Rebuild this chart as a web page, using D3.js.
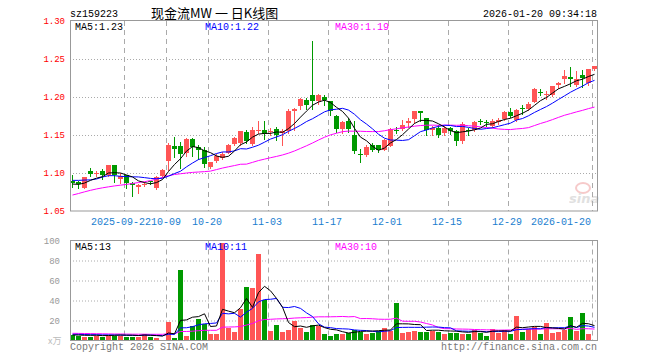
<!DOCTYPE html>
<html>
<head>
<meta charset="utf-8">
<script src="https://cdn.jsdelivr.net/npm/d3@7"></script>
<style>
body { margin: 0; background: #fff; }
text { font-family: "Liberation Mono", "DejaVu Sans Mono", monospace; }
</style>
</head>
<body>
<svg id="chart" width="660" height="360"></svg>
<script>
// trading days shown (88 candles)
const dates = [
  '2025-09-09','2025-09-10','2025-09-11','2025-09-12','2025-09-15','2025-09-16','2025-09-17','2025-09-18','2025-09-19',
  '2025-09-22','2025-09-23','2025-09-24','2025-09-25','2025-09-26','2025-09-29','2025-09-30',
  '2025-10-09','2025-10-10','2025-10-13','2025-10-14','2025-10-15','2025-10-16','2025-10-17',
  '2025-10-20','2025-10-21','2025-10-22','2025-10-23','2025-10-24','2025-10-27','2025-10-28','2025-10-29','2025-10-30','2025-10-31',
  '2025-11-03','2025-11-04','2025-11-05','2025-11-06','2025-11-07','2025-11-10','2025-11-11','2025-11-12','2025-11-13','2025-11-14',
  '2025-11-17','2025-11-18','2025-11-19','2025-11-20','2025-11-21','2025-11-24','2025-11-25','2025-11-26','2025-11-27','2025-11-28',
  '2025-12-01','2025-12-02','2025-12-03','2025-12-04','2025-12-05','2025-12-08','2025-12-09','2025-12-10','2025-12-11','2025-12-12',
  '2025-12-15','2025-12-16','2025-12-17','2025-12-18','2025-12-19','2025-12-22','2025-12-23','2025-12-24','2025-12-25','2025-12-26',
  '2025-12-29','2025-12-30','2025-12-31',
  '2026-01-05','2026-01-06','2026-01-07','2026-01-08','2026-01-09','2026-01-12','2026-01-13','2026-01-14','2026-01-15','2026-01-16',
  '2026-01-19','2026-01-20'
];

const open = [1.090,1.088,1.081,1.102,1.099,1.102,1.097,1.110,1.092,1.097,
  1.087,1.081,1.085,1.089,1.081,1.096,1.116,1.136,1.136,1.126,
  1.145,1.134,1.130,1.108,1.117,1.120,1.127,1.138,1.139,1.1535,
  1.139,1.156,1.156,1.154,1.158,1.1525,1.155,1.181,1.188,1.196,
  1.202,1.194,1.200,1.195,1.175,1.158,1.168,1.150,1.125,1.123,
  1.137,1.137,1.131,1.136,1.157,1.158,1.166,1.170,1.181,1.172,
  1.156,1.159,1.153,1.159,1.155,1.142,1.156,1.156,1.168,1.167,
  1.162,1.168,1.171,1.180,1.170,1.186,1.185,1.194,1.207,1.2025,
  1.202,1.216,1.223,1.226,1.216,1.2285,1.218,1.237];
const high = [1.097,1.090,1.095,1.106,1.103,1.105,1.111,1.111,1.100,1.098,
  1.088,1.085,1.088,1.090,1.096,1.105,1.139,1.147,1.141,1.146,
  1.146,1.137,1.134,1.115,1.125,1.127,1.138,1.147,1.155,1.156,
  1.160,1.168,1.169,1.159,1.160,1.158,1.184,1.186,1.199,1.199,
  1.274,1.204,1.202,1.195,1.176,1.168,1.172,1.169,1.132,1.137,
  1.139,1.137,1.145,1.159,1.160,1.170,1.173,1.181,1.181,1.173,
  1.162,1.163,1.162,1.161,1.157,1.167,1.159,1.168,1.171,1.170,
  1.171,1.172,1.182,1.185,1.184,1.190,1.193,1.212,1.211,1.208,
  1.214,1.220,1.235,1.240,1.234,1.236,1.237,1.241];
const low = [1.082,1.080,1.080,1.096,1.096,1.092,1.096,1.088,1.087,1.080,
  1.070,1.074,1.083,1.086,1.079,1.095,1.104,1.121,1.107,1.122,
  1.123,1.119,1.108,1.107,1.115,1.118,1.126,1.137,1.137,1.139,
  1.137,1.153,1.145,1.150,1.144,1.137,1.153,1.157,1.184,1.184,
  1.184,1.191,1.190,1.176,1.154,1.153,1.154,1.126,1.114,1.122,
  1.129,1.127,1.130,1.135,1.153,1.156,1.160,1.166,1.168,1.150,
  1.150,1.148,1.150,1.151,1.137,1.140,1.150,1.155,1.164,1.162,
  1.160,1.165,1.170,1.174,1.168,1.178,1.183,1.193,1.202,1.197,
  1.201,1.212,1.218,1.214,1.215,1.213,1.216,1.236];
const close = [1.087,1.086,1.095,1.098,1.100,1.097,1.110,1.097,1.096,1.087,
  1.084,1.084,1.086,1.088,1.095,1.104,1.137,1.132,1.126,1.145,
  1.134,1.130,1.111,1.114,1.123,1.125,1.137,1.146,1.155,1.141,
  1.157,1.157,1.1505,1.155,1.1505,1.155,1.181,1.184,1.197,1.190,
  1.194,1.202,1.196,1.182,1.158,1.167,1.158,1.1285,1.1245,1.134,
  1.131,1.131,1.144,1.158,1.156,1.163,1.168,1.181,1.178,1.156,
  1.159,1.150,1.159,1.155,1.142,1.165,1.155,1.167,1.167,1.166,
  1.169,1.170,1.180,1.175,1.183,1.185,1.191,1.211,1.206,1.204,
  1.214,1.219,1.227,1.223,1.224,1.224,1.237,1.241];
// volume, 万
const volume = [6.2,5.5,4.5,4.5,5.5,4.5,6,5.5,6,4.5,
  4.5,4.5,8,4.5,3,2,20,4,71.5,5.5,
  15.5,23,18,8,8,98.8,14,10,33,54.5,
  54,88,41.5,10.5,16.5,10,11.5,20.5,14,10,
  17,15.5,8,5.5,7,8,9,11.5,10,8,
  9,10.5,14,11,39,9,10,11,10,10,
  10.5,10,8,9,9,7,8,11.5,9,5.5,
  13,9,11.5,8,25.5,10,12.5,14.5,8,19,
  9,10,11.5,24.5,11,28.8,8,2];

// MA values at the left edge (their windows start before the first candle)
const ma5Head = [1.0855,1.0850,1.0868,1.0903];
const ma10Head = [1.0903,1.0903,1.0907,1.0910,1.0921,1.0947,1.0965,1.0965,1.0956];
const ma30Head = [1.0710,1.0730,1.0752,1.0772,1.0790,1.0805,1.0818,1.0830,1.0840,1.0850,
  1.0862,1.0875,1.0886,1.0900,1.0920,1.0942,1.0965,1.0980,1.0990,1.1000,
  1.1008,1.1013,1.1018,1.1025,1.1045,1.1065,1.1082,1.1098,1.1115];
const vma5Head = [5.5,5.5,5.2,5.2];
const vma10Head = [6.2,6.2,6.0,5.8,5.8,5.6,5.6,5.5,5.4];
const vma30Head = [7.2,7.1,7.0,6.9,6.8,6.7,6.6,6.5,6.5,6.4,
  6.3,6.3,6.3,6.2,6.2,6.2,6.8,6.8,9.0,9.0,
  9.3,9.8,10.2,10.2,10.2,13.3,13.5,13.6,14.0];

const priceTicks = [1.05,1.10,1.15,1.20,1.25,1.30];
const volTicks = [20,40,60,80,100];
const tickDates = ['2025-09-22','2025-10-09','2025-10-20','2025-11-03','2025-11-17','2025-12-01','2025-12-15','2025-12-29','2026-01-20'];
const tickLabels = ['2025-09-22','10-09','10-20','11-03','11-17','12-01','12-15','12-29','2026-01-20'];
const priceLegend = ['MA5:1.23','MA10:1.22','MA30:1.19'];
const volLegend = ['MA5:13','MA10:11','MA30:10'];

const LEFT = 70, RIGHT = 597;
const P_TOP = 21, P_BOT = 211;
const V_TOP = 240.5, V_BOT = 340.5;
const RED = '#ff5555', GREEN = '#009900';
const MA_COLORS = ['#000000', '#0000ff', '#ff00ff'];
const GRID = '#aaaaaa';

const svg = d3.select('#chart');
svg.append('rect').attr('width', 660).attr('height', 360).attr('fill', '#fff');

const x = d3.scaleBand().domain(dates).range([LEFT, RIGHT]).paddingInner(1 / 6).paddingOuter(0);
const y = d3.scaleLinear().domain([1.05, 1.30]).range([P_BOT, P_TOP]);
const yv = d3.scaleLinear().domain([0, 100]).range([V_BOT, V_TOP]);
const bw = x.bandwidth();

function movingAvg(vals, n, head) {
  return vals.map((v, i) => i < n - 1 ? head[i] : d3.mean(vals.slice(i - n + 1, i + 1)));
}

// sina watermark
const wm = svg.append('g').attr('opacity', 0.55);
wm.append('ellipse').attr('cx', 583).attr('cy', 188).attr('rx', 7).attr('ry', 5)
  .attr('fill', 'none').attr('stroke', '#f0a0a0').attr('stroke-width', 2);
wm.append('text').attr('x', 569).attr('y', 203).text('sina')
  .style('font-family', 'DejaVu Sans').style('font-weight', 'bold').style('font-style', 'italic')
  .style('font-size', '13px').attr('fill', '#c8c8c8');

// horizontal dotted grid
svg.append('g').attr('transform', `translate(${LEFT},0)`)
  .call(d3.axisLeft(y).tickValues([1.10, 1.15, 1.20, 1.25]).tickSize(-(RIGHT - LEFT)).tickFormat(''))
  .call(g => g.select('.domain').remove())
  .call(g => g.selectAll('line').attr('stroke', GRID).attr('stroke-dasharray', '1,2'));
svg.append('g').attr('transform', `translate(${LEFT},0)`)
  .call(d3.axisLeft(yv).tickValues([20, 40, 60, 80]).tickSize(-(RIGHT - LEFT)).tickFormat(''))
  .call(g => g.select('.domain').remove())
  .call(g => g.selectAll('line').attr('stroke', GRID).attr('stroke-dasharray', '1,2'));

// vertical dashed grid in both panels
[[P_TOP, P_BOT], [V_TOP, V_BOT]].forEach(([t, b]) => {
  svg.append('g').selectAll('line')
    .data(tickDates)
    .enter()
    .append('line')
    .attr('x1', d => x(d) + 0.5)
    .attr('x2', d => x(d) + 0.5)
    .attr('y1', t)
    .attr('y2', b)
    .attr('stroke', GRID)
    .attr('stroke-dasharray', '5,4');
});

// y labels
svg.append('g').attr('transform', `translate(${LEFT},0)`)
  .call(d3.axisLeft(y).tickValues(priceTicks).tickSize(0).tickPadding(5).tickFormat(d3.format('.2f')))
  .call(g => g.select('.domain').remove())
  .call(g => g.selectAll('text').attr('fill', '#ff0000')
    .style('font-family', '"Liberation Mono", monospace').style('font-size', '9px'));
svg.append('g').attr('transform', `translate(${LEFT},0)`)
  .call(d3.axisLeft(yv).tickValues(volTicks).tickSize(0).tickPadding(10).tickFormat(d3.format('d')))
  .call(g => g.select('.domain').remove())
  .call(g => g.selectAll('text').attr('fill', '#999')
    .style('font-family', '"Liberation Mono", monospace').style('font-size', '9px'));

// candles
const idx = d3.range(dates.length);
const candles = svg.append('g').attr('shape-rendering', 'crispEdges');
candles.selectAll('line')
  .data(idx)
  .enter()
  .append('line')
  .attr('x1', i => x(dates[i]) + 2.5)
  .attr('x2', i => x(dates[i]) + 2.5)
  .attr('y1', i => Math.round(y(high[i])))
  .attr('y2', i => Math.round(y(low[i])) + 1)
  .attr('stroke', i => close[i] >= open[i] ? RED : GREEN);
candles.selectAll('rect')
  .data(idx)
  .enter()
  .append('rect')
  .attr('x', i => x(dates[i]))
  .attr('width', bw)
  .attr('y', i => Math.round(y(Math.max(open[i], close[i]))))
  .attr('height', i => Math.max(1, Math.round(Math.abs(y(open[i]) - y(close[i])))))
  .attr('fill', i => close[i] >= open[i] ? RED : GREEN);

// volume bars
svg.append('g').attr('shape-rendering', 'crispEdges')
  .selectAll('rect')
  .data(idx)
  .enter()
  .append('rect')
  .attr('x', i => x(dates[i]))
  .attr('width', bw)
  .attr('y', i => Math.round(yv(volume[i])) + 0.5)
  .attr('height', i => V_BOT - Math.round(yv(volume[i])) - 0.5)
  .attr('fill', i => close[i] >= open[i] ? RED : GREEN);

// moving averages
const priceMA = [movingAvg(close, 5, ma5Head), movingAvg(close, 10, ma10Head), movingAvg(close, 30, ma30Head)];
const volMA = [movingAvg(volume, 5, vma5Head), movingAvg(volume, 10, vma10Head), movingAvg(volume, 30, vma30Head)];
const cx = i => x(dates[i]) + 2.5;
[2, 1, 0].forEach(k => {
  svg.append('path')
    .attr('d', d3.line().x(cx).y(i => y(priceMA[k][i]))(idx))
    .attr('fill', 'none').attr('stroke', MA_COLORS[k]).attr('stroke-width', 1);
  svg.append('path')
    .attr('d', d3.line().x(cx).y(i => yv(volMA[k][i]))(idx))
    .attr('fill', 'none').attr('stroke', MA_COLORS[k]).attr('stroke-width', 1);
});

// frames
svg.append('rect').attr('x', LEFT + 0.5).attr('y', P_TOP - 0.5).attr('width', RIGHT - LEFT).attr('height', P_BOT - P_TOP + 0.5)
  .attr('fill', 'none').attr('stroke', '#999');
svg.append('rect').attr('x', LEFT + 0.5).attr('y', V_TOP).attr('width', RIGHT - LEFT).attr('height', V_BOT - V_TOP)
  .attr('fill', 'none').attr('stroke', '#999');

// date labels: the first two sit edge to edge, the last is held inside the frame
const labelShift = [-3, 0, -1, -1, -1, -1, -1, -1, -1];
svg.append('g').selectAll('text')
  .data(tickDates)
  .enter()
  .append('text')
  .attr('x', (d, i) => x(d) + labelShift[i])
  .attr('y', 225)
  .attr('text-anchor', (d, i) => i === tickDates.length - 1 ? 'end' : 'middle')
  .attr('fill', '#1a7ecf')
  .style('font-size', '10px')
  .text((d, i) => tickLabels[i]);

// legends
const legendX = [75, 205, 335];
svg.append('g').selectAll('text')
  .data(priceLegend)
  .enter()
  .append('text')
  .attr('x', (d, i) => legendX[i])
  .attr('y', 30)
  .attr('fill', (d, i) => MA_COLORS[i])
  .style('font-size', '10px')
  .text(d => d);
svg.append('g').selectAll('text')
  .data(volLegend)
  .enter()
  .append('text')
  .attr('x', (d, i) => legendX[i])
  .attr('y', 250)
  .attr('fill', (d, i) => MA_COLORS[i])
  .style('font-size', '10px')
  .text(d => d);

// header
svg.append('text').attr('x', 70).attr('y', 17).style('font-size', '10px').text('sz159223');
svg.append('text').attr('x', 151).attr('y', 18)
  .style('font-family', '"Noto Sans CJK SC", sans-serif').style('font-size', '13px')
  .attr('xml:space', 'preserve').style('white-space', 'pre')
  .text('现金流MW 一 日K线图');
svg.append('text').attr('x', 597).attr('y', 17).attr('text-anchor', 'end').style('font-size', '10px')
  .text('2026-01-20 09:34:18');

// footer
svg.append('text').attr('x', 48).attr('y', 344).attr('fill', '#bbb')
  .style('font-family', '"Noto Sans CJK SC", sans-serif').style('font-size', '9px').text('x万');
svg.append('text').attr('x', 70).attr('y', 350).attr('fill', '#777').style('font-size', '10px')
  .text('Copyright 2026 SINA.COM');
svg.append('text').attr('x', 597).attr('y', 350).attr('text-anchor', 'end').attr('fill', '#777').style('font-size', '10px')
  .text('http://finance.sina.com.cn');
</script>
</body>
</html>
